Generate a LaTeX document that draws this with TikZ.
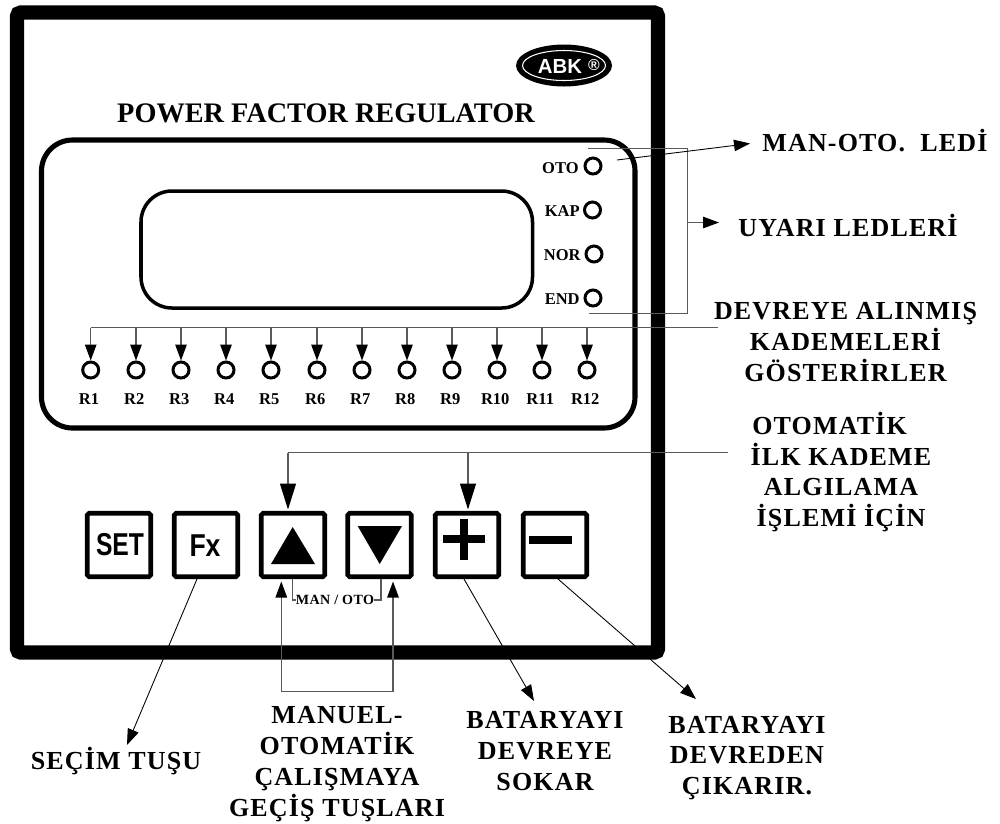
\documentclass[tikz,border=0pt]{standalone}
\usepackage{fontspec}
\usepackage{tikz}
\usetikzlibrary{arrows.meta,positioning,calc,shapes.geometric}
\setmainfont{Liberation Serif}
\setsansfont{Liberation Sans}
\newfontfamily\lblfont[LetterSpace=4.5]{Liberation Serif}
\newfontfamily\smallfont[LetterSpace=3]{Liberation Serif}
\definecolor{cwire}{RGB}{90,90,90}
\tikzset{
  led/.style={circle, draw, line width=1.7pt, minimum size=.32cm, inner sep=0pt},
  keybox/.style={draw, line width=2.6pt, rounded corners=1pt, minimum width=1.27cm, minimum height=1.27cm, inner sep=0pt},
  keytext/.style={font=\sffamily\bfseries\fontsize{18}{18}\selectfont, inner sep=0pt},
  ledtext/.style={font=\bfseries\fontsize{9.4}{10}\selectfont, inner sep=0pt, text height=6.4pt, text depth=0pt},
  lbl/.style={font=\fontsize{14.8}{17.6}\selectfont\lblfont\bfseries, align=center, inner sep=0pt},
  wire/.style={draw=cwire, line width=.7pt},
  thin wire/.style={draw=black, line width=.5pt},
  pintip/.style={-{Triangle[length=.32cm,width=.23cm,color=black,fill=black]}},
  keytip/.style={-{Triangle[length=.52cm,width=.32cm,color=black,fill=black]}}
}
\begin{document}
\begin{tikzpicture}[x=.02cm, y=-.02cm]
  \useasboundingbox (0,0) rectangle (1000,823);

  % housing, panel, screen
  \draw[line width=8pt, rounded corners=2pt] (17,12.5) rectangle (658,652.5);
  \draw[line width=2.9pt, rounded corners=.62cm] (41.5,140) rectangle (635,428);
  \draw[line width=2pt, rounded corners=.62cm] (141,191) rectangle (532.5,308);

  % logo
  \node[ellipse, fill=black, minimum width=1.92cm, minimum height=.84cm, inner sep=0pt] (logo) at (564,65.5) {};
  \node[ellipse, draw=white, line width=.6pt, minimum width=1.66cm, minimum height=.6cm, inner sep=0pt] (logoring) at (564,65.5) {};
  \node[text=white, font=\sffamily\bfseries\fontsize{11.6}{10}\selectfont, inner sep=0pt] (abk) at (560,66) {ABK};
  \node[text=white, font=\sffamily\bfseries\fontsize{9}{9}\selectfont, inner sep=0pt] (reg) at (594,65) {®};

  \node[font=\bfseries\fontsize{16.1}{16}\selectfont, inner sep=0pt] (title) at (326,113) {POWER FACTOR REGULATOR};

  % status leds
  \node[led] (oto) at (593,166) {};
  \node[led] (kap) at (592.5,210) {};
  \node[led] (nor) at (594,254) {};
  \node[led] (end) at (593,298) {};
  \node[ledtext, anchor=east] (ototext) at (579,168) {OTO};
  \node[ledtext, anchor=east] (kaptext) at (580,211) {KAP};
  \node[ledtext, anchor=east] (nortext) at (581,255) {NOR};
  \node[ledtext, anchor=east] (endtext) at (580,299) {END};

  % relay leds
  \coordinate (busend) at (718,327.5);
  \foreach \i/\xx in {1/90.7,2/136,3/181,4/226,5/271,6/317,7/362,8/407,9/452,10/497,11/542,12/587}{
    \node[led] (r\i) at (\xx,370) {};
    \node[ledtext, below=7.5pt of r\i, xshift=-1pt] (r\i text) {R\i};
    \draw[wire, pintip] (r\i |- busend) -- (r\i.north);
  }
  \draw[wire] (r1 |- busend) -- (busend);

  % keys
  \node[keybox] (set) at (119,545) {};
  \node[keybox] (fx) at (206,545) {};
  \node[keybox] (up) at (293,545) {};
  \node[keybox] (down) at (379.5,545) {};
  \node[keybox] (plus) at (467,545) {};
  \node[keybox] (minus) at (555,545) {};
  \node[keytext, xscale=.78, transform shape] (settext) at (120,545) {SET};
  \node[keytext, xscale=.84, transform shape] (fxtext) at (205,546) {Fx};
  \fill (292.7,527) -- (315,564) -- (271,564) -- cycle;
  \fill (357.7,526) -- (402,526) -- (379.7,564) -- cycle;
  \fill (460,519) rectangle (468,560);
  \fill (443,535) rectangle (485,543);
  \fill (529,536) rectangle (572,544);

  % labels
  \node[lbl, anchor=west] (manoto) at (762,141) {MAN-OTO.\ \ LEDİ};
  \node[lbl, anchor=west] (uyari) at (738,225) {UYARI LEDLERİ};
  \node[lbl] (devreye) at (845.5,342) {DEVREYE ALINMIŞ\\KADEMELERİ\\GÖSTERİRLER};
  \node[lbl] (otomatik) at (841,472) {OTOMATİK\hspace*{13pt}\\İLK KADEME\\ALGILAMA\\İŞLEMİ İÇİN};
  \node[lbl] (secim) at (116,761) {SEÇİM TUŞU};
  \node[lbl] (manuel) at (337,764) {MANUEL-\\OTOMATİK\\ÇALIŞMAYA\\GEÇİŞ TUŞLARI};
  \node[lbl] (sokar) at (545,751) {BATARYAYI\\DEVREYE\\SOKAR};
  \node[lbl] (cikarir) at (747,758) {BATARYAYI\\DEVREDEN\\ÇIKARIR.};
  \node[font=\fontsize{8}{8}\selectfont\smallfont\bfseries, inner sep=0pt] (manotokey) at (335,600) {MAN / OTO};

  % status bracket
  \coordinate (brtop) at (588,148.5);
  \coordinate (brbot) at (589,313.5);
  \coordinate (brmid) at (687.5,222.5);
  \coordinate (uyaritip) at (719,222.5);
  \draw[wire] (brtop) -- (brtop -| brmid) -- (brbot -| brmid) -- (brbot);
  \draw[wire, pintip] (brmid) -- (uyaritip);
  \coordinate (otostart) at (617,160);
  \coordinate (otoend) at (750,143.5);
  \draw[thin wire, pintip] (otostart) -- (otoend);

  % first step bus
  \coordinate (stepend) at (728,452.5);
  \coordinate (stepup) at (288,452.5);
  \coordinate (stepplus) at (468,452.5);
  \draw[wire] (stepup) -- (stepend);
  \draw[wire, keytip] (stepup) -- ++(0,57);
  \draw[wire, keytip] (stepplus) -- ++(0,57);

  % mode keys
  \coordinate (loopl) at (281.3,691.5);
  \coordinate (loopr) at (393,691.5);
  \coordinate (uptip) at (281.3,581.5);
  \coordinate (downtip) at (393,581.5);
  \draw[wire, pintip] (loopr) -- (loopl) -- (uptip);
  \draw[wire, pintip] (loopl) -- (loopr) -- (downtip);
  \draw[wire] (292.7,579) |- (manotokey.west);
  \draw[wire] (381,579) |- (manotokey.east);

  % pointers
  \coordinate (fxtip) at (127,745);
  \coordinate (plustip) at (534,701);
  \coordinate (minustip) at (696,699);
  \draw[thin wire, pintip] (197,579) -- (fxtip);
  \draw[thin wire, pintip] (464,579) -- (plustip);
  \draw[thin wire, pintip] (558,579) -- (minustip);
\end{tikzpicture}
\end{document}
